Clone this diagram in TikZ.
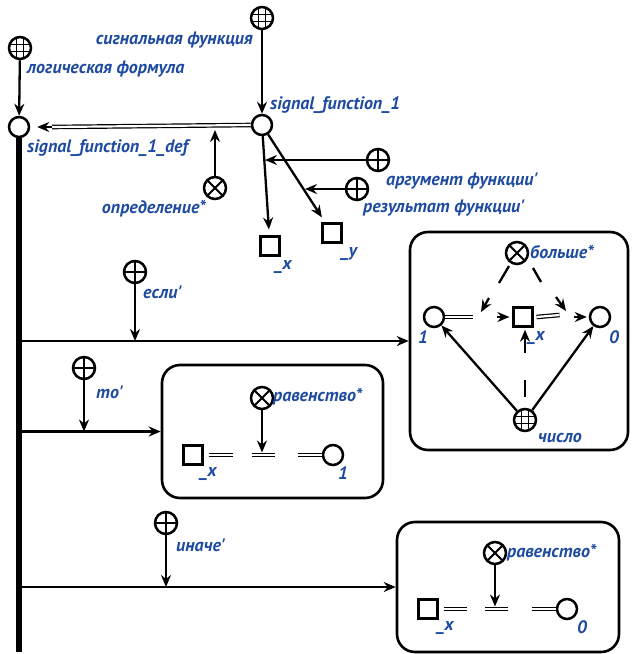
\documentclass[tikz,border=0pt]{standalone}
\usepackage{fontspec}
\setmainfont{PT Sans}
\usetikzlibrary{arrows.meta,calc}
\definecolor{lblue}{RGB}{30,75,160}
\tikzset{
 lbl/.style={text=lblue, font=\bfseries\itshape\fontsize{18}{19}\selectfont, inner sep=0pt},
 base/.style={draw, line width=2.5pt, fill=white, inner sep=0pt},
 cnode/.style={base, circle, minimum size=20pt},
 snode/.style={base, line width=2.2pt, rectangle, minimum size=19pt},
 gnode/.style={base, circle, minimum size=22pt, path picture={
    \draw[line width=1.3pt] ([xshift=-3.6pt]path picture bounding box.north) -- ([xshift=-3.6pt]path picture bounding box.south)
      ([xshift=3.6pt]path picture bounding box.north) -- ([xshift=3.6pt]path picture bounding box.south)
      ([yshift=-3.6pt]path picture bounding box.west) -- ([yshift=-3.6pt]path picture bounding box.east)
      ([yshift=3.6pt]path picture bounding box.west) -- ([yshift=3.6pt]path picture bounding box.east);}},
 pnode/.style={base, circle, minimum size=22pt, path picture={\draw[line width=2pt] (path picture bounding box.north) -- (path picture bounding box.south) (path picture bounding box.west) -- (path picture bounding box.east);}},
 xnode/.style={base, circle, minimum size=22pt, path picture={\draw[line width=2pt] (path picture bounding box.north west) -- (path picture bounding box.south east) (path picture bounding box.north east) -- (path picture bounding box.south west);}},
 arc/.style={line width=2.3pt, -{Stealth[length=12pt,width=10pt,inset=4pt]}},
 seg/.style={line width=2.3pt},
 dbl/.style={double, double distance=2.2pt, line width=1.2pt},
 box/.style={draw, line width=2.6pt, rounded corners=18pt},
 branch/.style={line width=2.6pt, -{Stealth[length=12pt,width=10pt,inset=4pt]}},
}
\begin{document}
\begin{tikzpicture}[x=1pt,y=-1pt]
\useasboundingbox (0,0) rectangle (632,654);
% boxes
\node[box, minimum width=218pt, minimum height=218pt] (boxA) at (519,341) {};
\node[box, minimum width=221pt, minimum height=133pt] (boxB) at (272.5,431.5) {};
\node[box, minimum width=222pt, minimum height=130pt] (boxC) at (508,587) {};
% top part
\node[gnode] (lf) at (20,48) {};
\node[cnode] (def) at (19,127) {};
\node[gnode] (sfg) at (262,18) {};
\node[cnode] (sf1) at (262,125) {};
\node[xnode] (opr) at (215,188) {};
\node[pnode] (argp) at (378,160) {};
\node[pnode] (resp) at (357,189) {};
\node[snode] (sx) at (270,246) {};
\node[snode] (sy) at (332,233) {};
\coordinate (bottom) at (19,652);
\node[lbl, anchor=west] (lfl) at (27,69) {логическая формула};
\node[lbl, anchor=east] (sfgl) at (253,40) {сигнальная функция};
\node[lbl, anchor=west] (defl) at (27,148) {signal\_function\_1\_def};
\node[lbl, anchor=west] (sf1l) at (270,105) {signal\_function\_1};
\node[lbl, anchor=east] (oprl) at (206,209) {определение*};
\node[lbl, anchor=west] (argl) at (386,181) {аргумент функции\textquotesingle};
\node[lbl, anchor=west] (resl) at (363,208) {результат функции\textquotesingle};
\node[lbl] (sxl) at (283,267) {\_x};
\node[lbl] (syl) at (349,254) {\_y};
\draw[line width=5.5pt] (def.south) -- (bottom);
\draw[arc] (lf) -- (def);
\draw[arc] (sfg) -- (sf1);
\coordinate (dblend) at (52,127);
\draw[dbl] (sf1.west) -- (dblend);
\draw[arc, shorten >=7pt] (dblend) -- (def.east);
\coordinate (dm) at (215,130);
\draw[arc] (opr) -- (dm);
\draw[arc, shorten >=6pt] (sf1) -- (sx);
\draw[arc, shorten >=6pt] (sf1) -- (sy);
\coordinate (argt) at (265,160);
\draw[arc] (argp) -- (argt);
\coordinate (rest) at (305,189);
\draw[arc] (resp) -- (rest);
% branches
\node[pnode] (ifp) at (135,272) {};
\node[lbl, anchor=west] (ifl) at (143,292) {если\textquotesingle};
\draw[branch] (bottom |- boxA.west) -- (boxA.west);
\draw[arc] (ifp) -- (ifp |- boxA.west);
\node[pnode] (thp) at (84,368) {};
\node[lbl, anchor=west] (thl) at (96,392) {то\textquotesingle};
\draw[branch] (bottom |- boxB.west) -- (boxB.west);
\draw[arc] (thp) -- (thp |- boxB.west);
\node[pnode] (elp) at (166,523) {};
\node[lbl, anchor=west] (ell) at (176,545) {иначе\textquotesingle};
\draw[branch] (bottom |- boxC.west) -- (boxC.west);
\draw[arc] (elp) -- (elp |- boxC.west);
% box A
\node[cnode] (a1) at (434,317) {};
\node[snode] (ax) at (523,317) {};
\node[cnode] (a0) at (600,317) {};
\node[xnode] (agt) at (517,253) {};
\node[gnode] (anum) at (525,420) {};
\node[lbl, anchor=west] (agtl) at (530,252) {больше*};
\node[lbl] (a1l) at (423,337) {1};
\node[lbl] (axl) at (536,338) {\_x};
\node[lbl] (a0l) at (614,337) {0};
\node[lbl, anchor=west] (anuml) at (538,438) {число};
\draw[dbl] (a1.east) -- ++(28,0);
\draw[arc] ($(ax.west)+(-15,0)$) -- ($(ax.west)+(-3,0)$);
\draw[dbl] ($(ax.east)+(3,0)$) -- ($(ax.east)+(26,-2)$);
\draw[arc] ($(a0.west)+(-15,0)$) -- ($(a0.west)+(-2,0)$);
\coordinate (gl1) at (509,266); \coordinate (gl2) at (499,283);
\coordinate (gl3) at (489,298); \coordinate (gl4) at (481,312);
\draw[seg] (gl1) -- (gl2);
\draw[arc] (gl3) -- (gl4);
\coordinate (gr1) at (533,268); \coordinate (gr2) at (541,282);
\coordinate (gr3) at (556,297); \coordinate (gr4) at (566,311);
\draw[seg] (gr1) -- (gr2);
\draw[arc] (gr3) -- (gr4);
\draw[arc] (anum) -- (a1);
\draw[arc] (anum) -- (a0);
\draw[line width=2.8pt] ($(anum.north)+(0,-11)$) -- ($(anum.north)+(0,-28)$);
\draw[arc, line width=2.8pt] ($(anum.north)+(0,-55)$) -- ($(anum.north)+(0,-78)$);
% box B
\node[snode] (bx) at (193,455) {};
\node[xnode] (beq) at (262,398) {};
\node[cnode] (b1) at (333,455) {};
\node[lbl, anchor=west] (beql) at (273,397) {равенство*};
\node[lbl] (bxl) at (208,474) {\_x};
\node[lbl] (b1l) at (343,473) {1};
\draw[dbl] ($(bx.east)+(5,0)$) -- ($(bx.east)+(29,0)$);
\coordinate (bm1) at (252,455); \coordinate (bm2) at (275,455);
\draw[dbl] (bm1) -- (bm2);
\coordinate (bmt) at (262,452.5);
\draw[arc] (beq) -- (bmt);
\draw[dbl] ($(b1.west)+(-24,0)$) -- (b1.west);
% box C
\node[snode] (cx) at (428,609) {};
\node[xnode] (ceq) at (495,553) {};
\node[cnode] (c0) at (567,609) {};
\node[lbl, anchor=west] (ceql) at (507,553) {равенство*};
\node[lbl] (cxl) at (445,628) {\_x};
\node[lbl] (c0l) at (582,627) {0};
\draw[dbl] ($(cx.east)+(5,0)$) -- ($(cx.east)+(28,0)$);
\coordinate (cm1) at (485,609); \coordinate (cm2) at (508,609);
\draw[dbl] (cm1) -- (cm2);
\coordinate (cmt) at (495,606.5);
\draw[arc] (ceq) -- (cmt);
\draw[dbl] ($(c0.west)+(-24,0)$) -- (c0.west);
\end{tikzpicture}
\end{document}
